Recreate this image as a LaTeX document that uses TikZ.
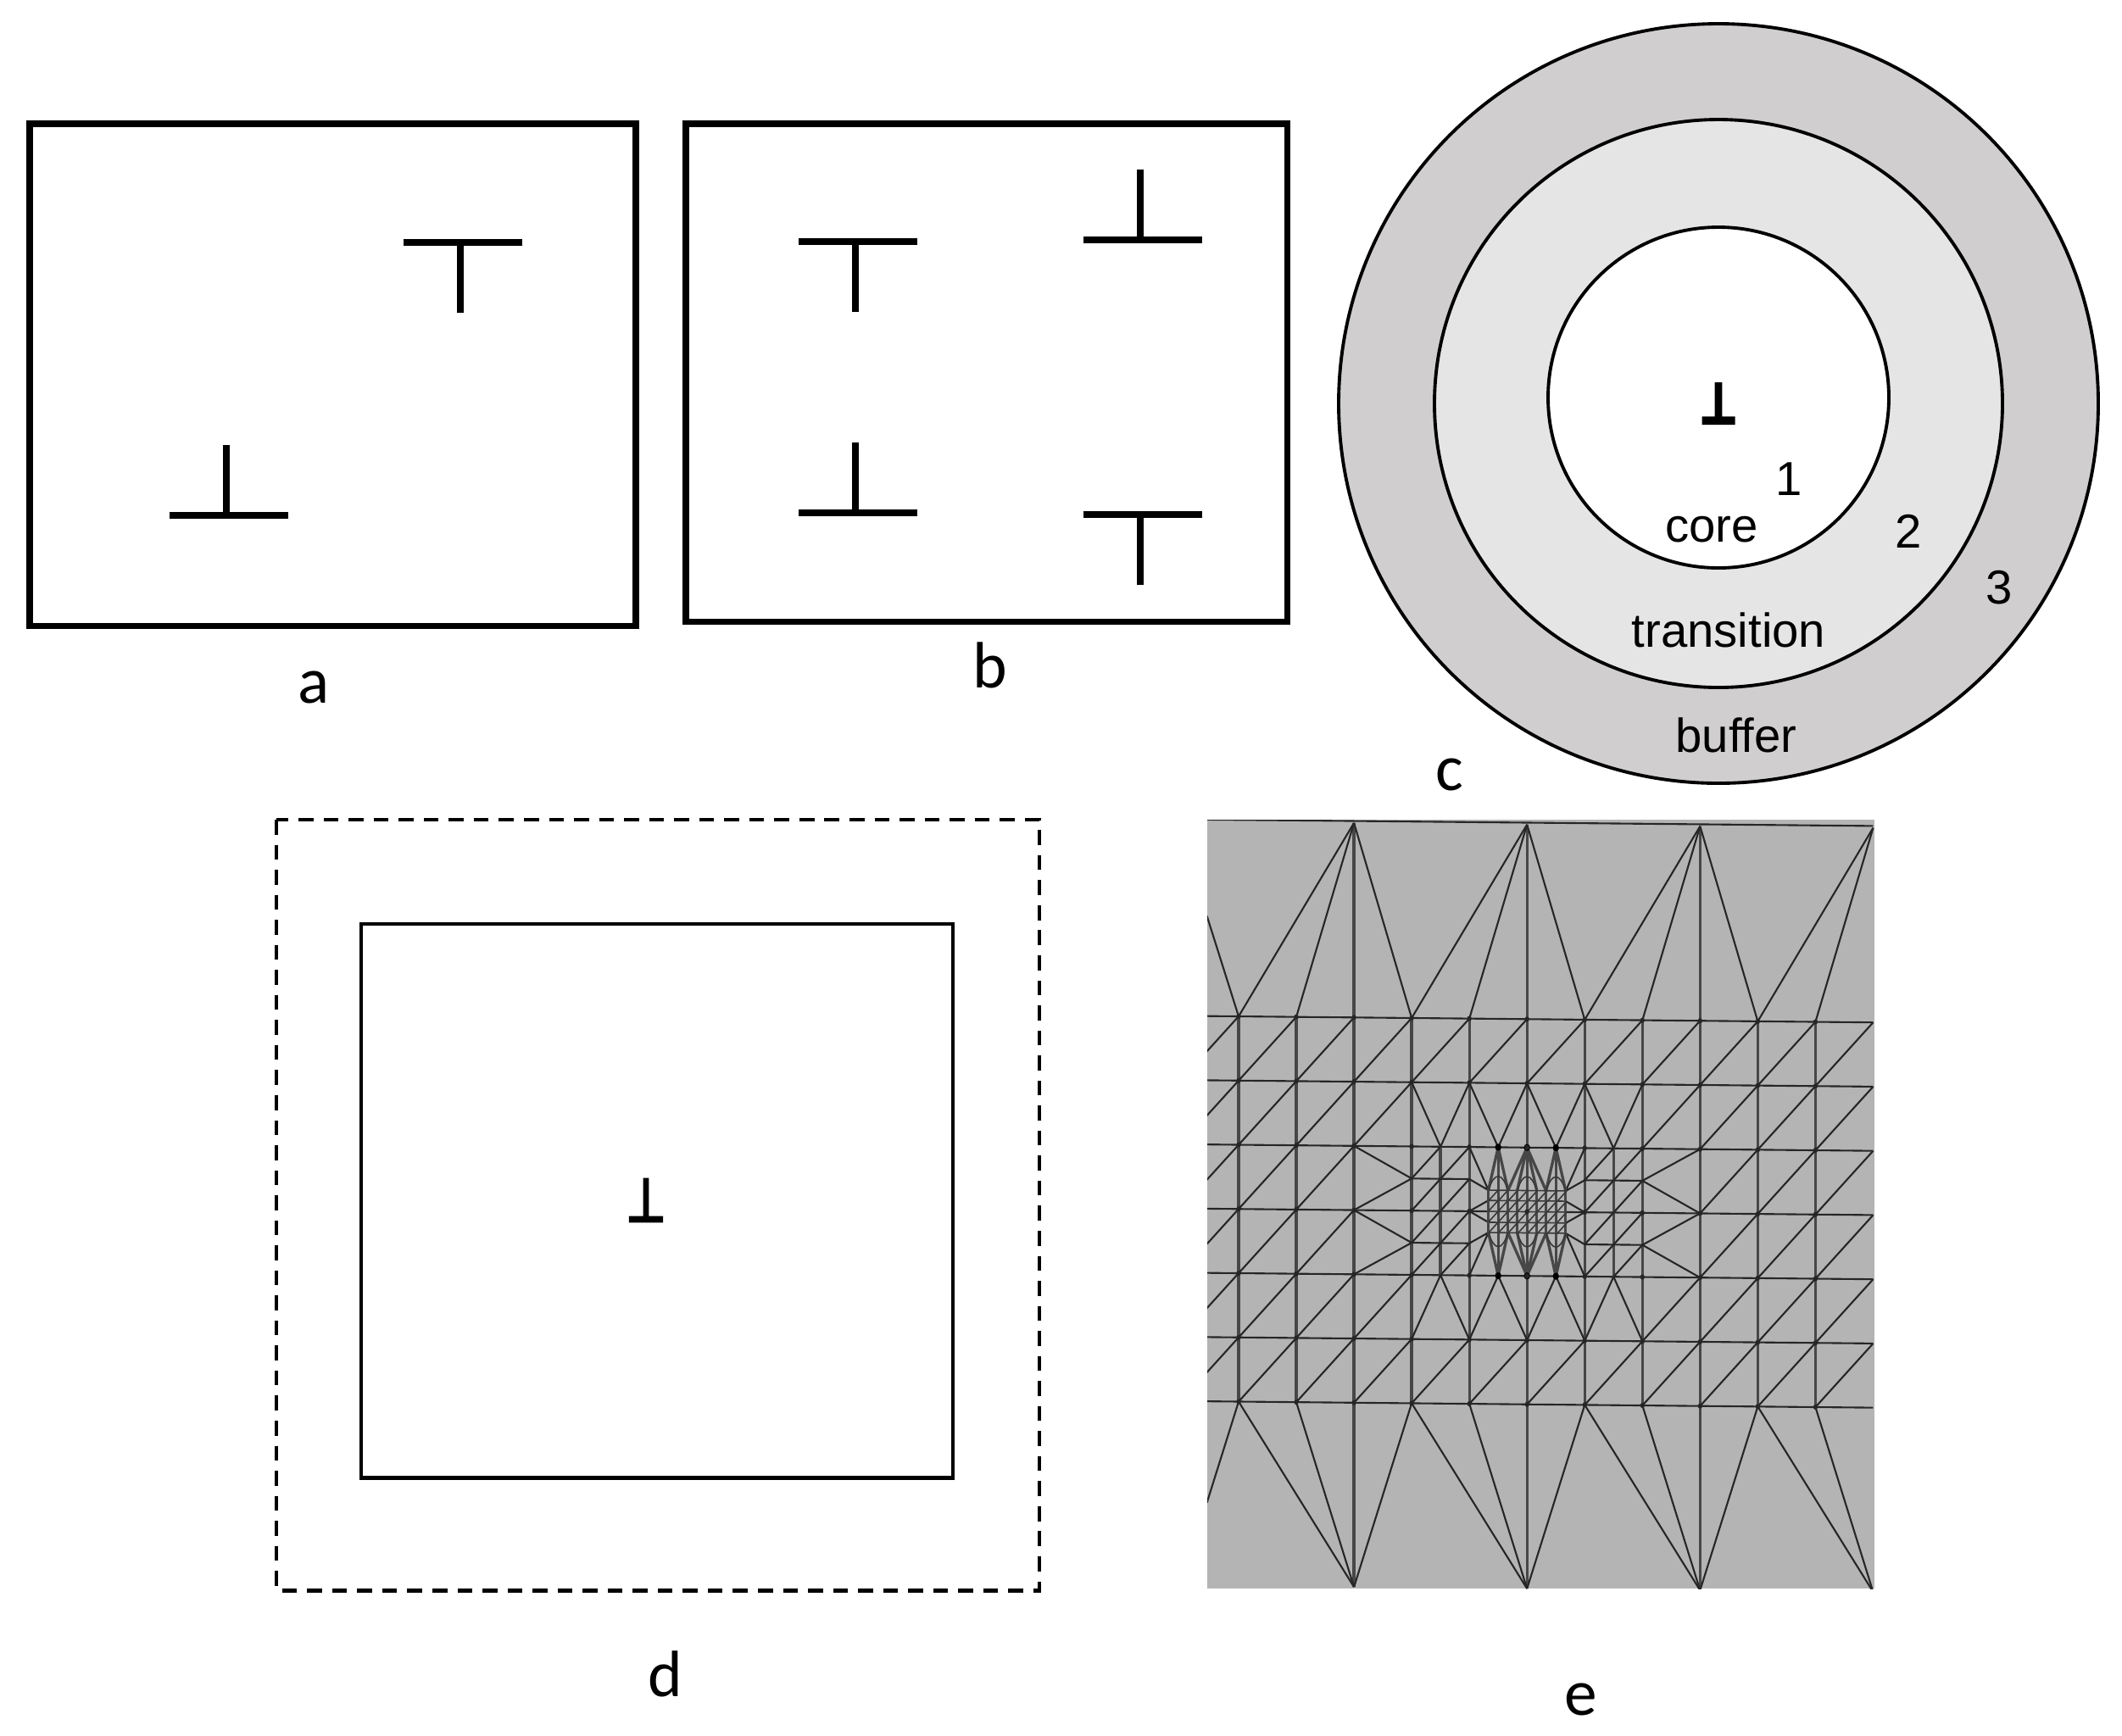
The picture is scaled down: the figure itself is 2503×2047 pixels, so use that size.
\documentclass[tikz,border=0pt]{standalone}
\usepackage{fontspec}
\setmainfont{Carlito}
\newfontfamily\arialfont{Liberation Sans}
\newfontfamily\perpfont[FakeStretch=0.75,FakeBold=5]{DejaVu Sans}
\newfontfamily\perpheavyfont[FakeStretch=0.75,FakeBold=9]{DejaVu Sans}
\usetikzlibrary{positioning}

\definecolor{bufferfill}{HTML}{D0CECF}
\definecolor{transitionfill}{HTML}{E5E5E5}
\definecolor{meshfill}{HTML}{B4B4B4}

\tikzset{
	panel/.style={draw=black,line width=2pt},
	dislocbar/.style={line width=2.1pt},
	outline/.style={line width=1.4pt},
	letter/.style={font=\fontsize{22}{24}\selectfont,inner sep=0pt},
	zonetext/.style={font=\arialfont\fontsize{16}{18}\selectfont,inner sep=0pt},
	meshline/.style={draw=black!85,line width=0.6pt},
	meshpost/.style={draw=black!72,line width=0.95pt},
	meshfine/.style={draw=black!78,line width=0.45pt},
}

\begin{document}
\begin{tikzpicture}[x=0.01cm,y=-0.01cm]
	\useasboundingbox (0,0) rectangle (2503,2047);

	% panels a and b
	\draw[panel] (35,146) rectangle (750,738);
	\draw[panel] (809,146) rectangle (1518,733);
	\foreach \x/\y in {543/286,1009/285,1345/607}
		\draw[dislocbar] (\x-67,\y) -- (\x+73,\y) (\x,\y) -- (\x,\y+83);
	\foreach \x/\y in {267/608,1009/605,1345/283}
		\draw[dislocbar] (\x-67,\y) -- (\x+73,\y) (\x,\y) -- (\x,\y-83);
	\node[letter] (labelA) at (370,811) {a};
	\node[letter] (labelB) at (1168,785) {b};

	% panel c
	\draw[fill=bufferfill,line width=1.1pt] (2027,476) circle [radius=448];
	\draw[fill=transitionfill,line width=1.1pt] (2027,476) circle [radius=335];
	\draw[fill=white,line width=1.1pt] (2027,469) circle [radius=201];
	\node[inner sep=0pt,font=\perpheavyfont\fontsize{18}{20}\selectfont] (dislocC) at (2027,476) {⊥};
	\node[zonetext] (core) at (2019,625) {core};
	\node[zonetext] (transition) at (2039,743) {transition};
	\node[zonetext] (buffer) at (2048,867) {buffer};
	\node[zonetext] (zoneOne) at (2110,565) {1};
	\node[zonetext] (zoneTwo) at (2251,627) {2};
	\node[zonetext] (zoneThree) at (2358,693) {3};
	\node[letter] (labelC) at (1710,914) {c};

	% panel d
	\draw[outline,dash pattern=on 5pt off 3.4pt] (326,967) rectangle (1226,1876);
	\draw[outline] (426,1090) rectangle (1124,1743);
	\node[inner sep=0pt,font=\perpfont\fontsize{20}{22}\selectfont] (dislocD) at (762,1416) {⊥};
	\node[letter] (labelD) at (785,1975) {d};

	% panel e
	\fill[meshfill] (1424,967) rectangle (2211,1874);
	\node[letter] (labelE) at (1865,2005) {e};
	\begin{scope}
		\clip (1424,967) rectangle (2211,1874);
		\begin{scope}[shift={(1461,1199)},x={(0.68cm,-0.0065cm)},y={(0,-0.757cm)}]
			% rows and posts
			\foreach \j in {0,1,2,4,5,6}
				\draw[meshline] (-0.55,\j) -- (11,\j);
			\draw[meshline] (-0.55,3) -- (4.33,3) (5.67,3) -- (11,3);
			\foreach \i in {0,1,3,4,6,7,9,10}
				\draw[meshpost] (\i,0) -- (\i,6);
			\foreach \i in {2,5,8}
				\draw[meshpost] (\i,-3.03) -- (\i,8.87);
			\foreach \i in {3.5,6.5}
				\draw[meshpost] (\i,2) -- (\i,4);
			\draw[meshline] (-0.55,-3.06) -- (11,-3.06);
			% fans to the top and bottom edge
			\foreach \a/\b in {2/0,2/1,2/3,5/3,5/4,5/6,8/6,8/7,8/9,11/9,11/10}{
				\draw[meshline] (\a,-3.03) -- (\b,0);
				\draw[meshline] (\a,8.87) -- (\b,6);
			}
			\draw[meshline] (-0.55,-1.56) -- (0,0) (-0.55,7.58) -- (0,6);
			% diagonals
			\foreach \j/\cols in {0/{0,...,10},1/{0,1,2,7,8,9,10},2/{0,1,8,9,10},3/{0,1,8,9,10},4/{0,1,2,7,8,9,10},5/{0,...,10}}
				\foreach \i in \cols
					\draw[meshline] (\i,\j+1) -- (\i+1,\j);
			\foreach \j in {0,...,5}
				\draw[meshline] (-0.55,\j+0.55) -- (0,\j);
			% halved cells beside the core
			\foreach \i in {3,6}{
				\draw[meshline] (\i,2.5) -- (\i+1,2.5) (\i,3.5) -- (\i+1,3.5);
				\foreach \x in {0,0.5}
					\foreach \y in {2,2.5,3,3.5}
						\draw[meshline] (\i+\x,\y+0.5) -- (\i+\x+0.5,\y);
			}
			\foreach \p/\q in {3/3.5,4/3.5,4/4.5,5/4.5,5/5.5,6/5.5,6/6.5,7/6.5}{
				\draw[meshline] (\p,1) -- (\q,2);
				\draw[meshline] (\p,5) -- (\q,4);
			}
			\draw[meshline] (2,2) -- (3,2.5) -- (2,3) -- (3,3.5) -- (2,4);
			\draw[meshline] (8,2) -- (7,2.5) -- (8,3) -- (7,3.5) -- (8,4);
			\draw[meshline] (4,2) -- (4.33,2.67) (4,2.5) -- (4.33,2.67) (4,3) -- (4.33,2.83) (4,3) -- (4.33,3.17) (4,3.5) -- (4.33,3.33) (4,4) -- (4.33,3.33);
			\draw[meshline] (6,2) -- (5.67,2.67) (6,2.5) -- (5.67,2.67) (6,3) -- (5.67,2.83) (6,3) -- (5.67,3.17) (6,3.5) -- (5.67,3.33) (6,4) -- (5.67,3.33);
			% core
			\foreach \a/\b in {4.5/4.33,4.5/4.5,4.5/4.67,5/4.67,5/4.83,5/5.17,5/5.33,5.5/5.33,5.5/5.5,5.5/5.67}{
				\draw[meshpost] (\a,2) -- (\b,2.67);
				\draw[meshpost] (\a,4) -- (\b,3.33);
			}
			\foreach \y in {2.67,2.83,3,3.17,3.33}
				\draw[meshfine] (4.33,\y) -- (5.67,\y);
			\foreach \x in {4.33,4.5,4.67,4.83,5,5.17,5.33,5.5,5.67}
				\draw[meshpost] (\x,2.67) -- (\x,3.33);
			\foreach \x in {4.33,4.5,...,5.6}
				\foreach \y in {2.67,2.83,3,3.17}
					\draw[meshfine] (\x,\y+0.167) -- (\x+0.167,\y);
			\foreach \x in {4.33,4.83,5.33}{
				\draw[meshfine] (\x,2.67) .. controls (\x+0.1,2.38) and (\x+0.24,2.38) .. (\x+0.34,2.67);
				\draw[meshfine] (\x,3.33) .. controls (\x+0.1,3.62) and (\x+0.24,3.62) .. (\x+0.34,3.33);
			}
			% darker nodes of the mesh
			\foreach \i in {4.5,5,5.5}{
				\fill[black] (\i,2) circle [radius=0.055];
				\fill[black] (\i,4) circle [radius=0.055];
			}
			\foreach \i in {0,...,10}
				\foreach \j in {0,...,6}
					\fill[black!85] (\i,\j) circle [radius=0.04];
		\end{scope}
	\end{scope}
\end{tikzpicture}
\end{document}
